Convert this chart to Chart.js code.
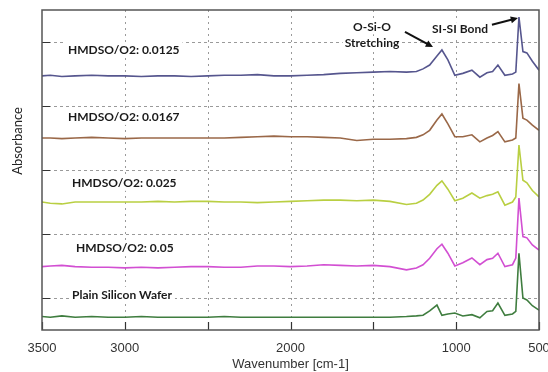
<!DOCTYPE html>
<html>
<head>
<meta charset="utf-8">
<script src="https://cdn.jsdelivr.net/npm/chart.js@4/dist/chart.umd.min.js"></script>
<style>
  html, body { margin: 0; padding: 0; background: #fff; }
  #wrap { width: 548px; height: 372px; }
</style>
</head>
<body>
<div id="wrap"><canvas id="c" width="548" height="372"></canvas></div>
<script>
// wavenumber grid (cm-1), shared by all spectra
const wavenumbers = [3500, 3450, 3380, 3300, 3200, 3100, 3000, 2900, 2800, 2700, 2600, 2500, 2400, 2300, 2200, 2100, 2000, 1900, 1800, 1700, 1600, 1500, 1400, 1300, 1240, 1200, 1160, 1116, 1086, 1050, 1008, 960, 905, 857, 814, 780, 748, 706, 660, 640, 621, 597, 573, 540, 500];

// absorbance (stacked, arbitrary units)
const ratio0125 = [3.97, 3.98, 3.96, 3.97, 3.98, 3.97, 3.97, 3.96, 3.97, 3.97, 3.96, 3.97, 3.98, 3.98, 3.99, 3.97, 3.97, 3.98, 3.99, 4.01, 4.02, 4.03, 4.04, 4.03, 4.04, 4.08, 4.14, 4.28, 4.375, 4.22, 3.98, 4.01, 4.06, 3.95, 4.02, 4.04, 4.14, 3.98, 4.0, 4.03, 4.89, 4.35, 4.33, 4.2, 4.06];
const ratio0167 = [3.0, 3.0, 2.99, 3.0, 3.01, 3.0, 2.99, 3.0, 3.0, 3.0, 3.0, 3.0, 3.0, 3.01, 3.02, 3.03, 3.02, 3.02, 3.01, 3.0, 2.96, 2.98, 2.98, 2.99, 3.01, 3.05, 3.12, 3.28, 3.375, 3.22, 3.02, 3.02, 3.05, 2.94, 3.0, 3.04, 3.1, 2.94, 2.97, 3.0, 3.85, 3.31, 3.28, 3.2, 3.12];
const ratio025 = [2.0, 1.98, 1.97, 2.0, 2.0, 2.0, 2.0, 2.0, 2.01, 2.0, 2.01, 2.01, 2.0, 2.0, 1.99, 2.0, 2.01, 2.02, 2.03, 2.03, 2.02, 2.03, 2.01, 1.96, 1.98, 2.03, 2.12, 2.26, 2.33, 2.2, 2.02, 2.06, 2.14, 2.06, 2.1, 2.12, 2.16, 1.95, 2.0, 2.08, 2.89, 2.34, 2.3, 2.18, 2.08];
const ratio05 = [0.99, 1.0, 1.01, 0.99, 0.98, 0.98, 0.97, 0.98, 0.97, 0.98, 0.99, 0.99, 0.98, 0.98, 1.0, 1.0, 0.99, 1.0, 1.02, 1.01, 1.0, 1.01, 0.99, 0.94, 0.97, 1.02, 1.12, 1.27, 1.34, 1.2, 1.0, 1.05, 1.125, 1.02, 1.1, 1.12, 1.2, 0.99, 1.02, 1.125, 2.06, 1.46, 1.44, 1.33, 1.25];
const plainWafer = [0.21, 0.2, 0.22, 0.2, 0.21, 0.2, 0.2, 0.21, 0.2, 0.2, 0.2, 0.2, 0.21, 0.2, 0.2, 0.2, 0.2, 0.2, 0.2, 0.2, 0.2, 0.2, 0.2, 0.21, 0.22, 0.23, 0.3, 0.39, 0.23, 0.25, 0.265, 0.22, 0.24, 0.19, 0.29, 0.3, 0.42, 0.23, 0.25, 0.29, 1.2, 0.5, 0.47, 0.38, 0.31];

const xTicks = [3500, 3000, 2500, 2000, 1500, 1000, 500];
const xTickLabels = ["3500", "3000", "", "2000", "", "1000", "500"];
const yTicks = [0.5, 1.5, 2.5, 3.5, 4.5];

const seriesNames = ["HMDSO/O2: 0.0125", "HMDSO/O2: 0.0167", "HMDSO/O2: 0.025", "HMDSO/O2: 0.05", "Plain Silicon Wafer"];
const seriesValues = [ratio0125, ratio0167, ratio025, ratio05, plainWafer];
const colors = ["#56568e", "#9a6848", "#b9cf42", "#d24fd2", "#3f7d3f"];

// label anchors in data units [wavenumber, absorbance]
const labelPos = [[3343, 4.375], [3343, 3.33], [3319, 2.30], [3295, 1.28], [3319, 0.55]];

const toPoints = (vals) => wavenumbers.map((w, i) => ({ x: w, y: vals[i] }));

// dashed grid drawn under the spectra
const dashedGrid = {
    id: "dashedGrid",
    beforeDatasetsDraw(chart) {
        const { ctx, chartArea: a, scales } = chart;
        ctx.save();
        ctx.strokeStyle = "#9a9a9a";
        ctx.lineWidth = 1;
        ctx.setLineDash([3, 3]);
        ctx.beginPath();
        yTicks.forEach(v => {
            const py = Math.round(scales.y.getPixelForValue(v)) + 0.5;
            ctx.moveTo(a.left, py); ctx.lineTo(a.right, py);
        });
        ctx.stroke();
        ctx.setLineDash([2, 4]);
        ctx.beginPath();
        xTicks.slice(1, -1).forEach(v => {
            const px = Math.round(scales.x.getPixelForValue(v)) + 0.5;
            ctx.moveTo(px, a.top); ctx.lineTo(px, a.bottom);
        });
        ctx.stroke();
        ctx.restore();
    }
};

const decorations = {
    id: "decorations",
    afterDatasetsDraw(chart) {
        const { ctx, chartArea: a, scales } = chart;
        const xs = scales.x, ys = scales.y;
        ctx.save();

        // inward tick marks
        ctx.strokeStyle = "#333";
        ctx.lineWidth = 1.2;
        ctx.beginPath();
        yTicks.forEach(v => {
            const py = Math.round(ys.getPixelForValue(v)) + 0.5;
            ctx.moveTo(a.left, py); ctx.lineTo(a.left + 8, py);
        });
        xTicks.forEach(v => {
            const px = Math.round(xs.getPixelForValue(v)) + 0.5;
            ctx.moveTo(px, a.bottom); ctx.lineTo(px, a.bottom - 8);
        });
        ctx.stroke();

        // frame
        ctx.strokeStyle = "#555";
        ctx.lineWidth = 1.5;
        ctx.strokeRect(a.left, a.top, a.right - a.left, a.bottom - a.top);

        // series labels with white background
        ctx.font = "bold 12px Lato";
        ctx.textBaseline = "middle";
        ctx.textAlign = "left";
        seriesNames.forEach((name, i) => {
            const px = xs.getPixelForValue(labelPos[i][0]);
            const py = ys.getPixelForValue(labelPos[i][1]);
            const w = ctx.measureText(name).width;
            ctx.fillStyle = "#fff";
            ctx.fillRect(px - 3, py - 8, w + 6, 16);
            ctx.fillStyle = "#1a1a1a";
            ctx.fillText(name, px, py);
        });

        // peak annotations
        ctx.textAlign = "center";
        const note = (txt, wn, ab) => {
            const px = xs.getPixelForValue(wn), py = ys.getPixelForValue(ab);
            const w = ctx.measureText(txt).width;
            ctx.fillStyle = "#fff";
            ctx.fillRect(px - w / 2 - 2, py - 7, w + 4, 14);
            ctx.fillStyle = "#1a1a1a";
            ctx.fillText(txt, px, py);
        };
        note("O-Si-O", 1508, 4.73);
        note("Stretching", 1508, 4.48);
        note("SI-SI Bond", 977, 4.70);

        const arrow = (w1, a1, w2, a2) => {
            const x1 = xs.getPixelForValue(w1), y1 = ys.getPixelForValue(a1);
            const x2 = xs.getPixelForValue(w2), y2 = ys.getPixelForValue(a2);
            const ang = Math.atan2(y2 - y1, x2 - x1);
            ctx.strokeStyle = "#111";
            ctx.fillStyle = "#111";
            ctx.lineWidth = 2;
            ctx.beginPath();
            ctx.moveTo(x1, y1);
            ctx.lineTo(x2 - 5 * Math.cos(ang), y2 - 5 * Math.sin(ang));
            ctx.stroke();
            ctx.beginPath();
            ctx.moveTo(x2, y2);
            ctx.lineTo(x2 - 8 * Math.cos(ang - 0.45), y2 - 8 * Math.sin(ang - 0.45));
            ctx.lineTo(x2 - 8 * Math.cos(ang + 0.45), y2 - 8 * Math.sin(ang + 0.45));
            ctx.closePath();
            ctx.fill();
        };
        arrow(1309, 4.66, 1140, 4.42);
        arrow(784, 4.77, 627, 4.875);

        // y axis title
        ctx.save();
        ctx.translate(18, 141);
        ctx.rotate(-Math.PI / 2);
        ctx.font = "13px Lato";
        ctx.fillStyle = "#222";
        ctx.textAlign = "center";
        ctx.fillText("Absorbance", 0, 0);
        ctx.restore();

        ctx.restore();
    }
};

new Chart(document.getElementById("c"), {
    type: "line",
    data: {
        datasets: seriesNames.map((name, i) => ({
            label: name,
            data: toPoints(seriesValues[i]),
            borderColor: colors[i],
            borderWidth: 1.6,
            pointRadius: 0,
            tension: 0,
            fill: false,
        })),
    },
    options: {
        responsive: false,
        animation: false,
        layout: { padding: { left: 42, right: 9, top: 10, bottom: 0 } },
        plugins: {
            legend: { display: false },
            tooltip: { enabled: false },
        },
        scales: {
            x: {
                type: "linear",
                reverse: true,
                min: 500,
                max: 3500,
                afterBuildTicks: (s) => { s.ticks = xTicks.map(v => ({ value: v })); },
                afterFit: (s) => { s.height = 42; s.paddingLeft = 0; s.paddingRight = 0; },
                ticks: {
                    autoSkip: false,
                    maxRotation: 0,
                    padding: 11,
                    color: "#333",
                    font: { family: "Liberation Sans, Arial", size: 13 },
                    callback: (v) => xTickLabels[xTicks.indexOf(v)],
                },
                grid: { display: false, drawTicks: false },
                border: { display: false },
                title: {
                    display: true,
                    text: "Wavenumber [cm-1]",
                    color: "#333",
                    font: { family: "Liberation Sans, Arial", size: 13 },
                    padding: { top: -6, bottom: 0 },
                },
            },
            y: {
                min: 0,
                max: 5,
                afterBuildTicks: (s) => { s.ticks = yTicks.map(v => ({ value: v })); },
                afterFit: (s) => { s.width = 0; },
                ticks: { display: false },
                grid: { display: false, drawTicks: false },
                border: { display: false },
            },
        },
    },
    plugins: [dashedGrid, decorations],
});
</script>
</body>
</html>
